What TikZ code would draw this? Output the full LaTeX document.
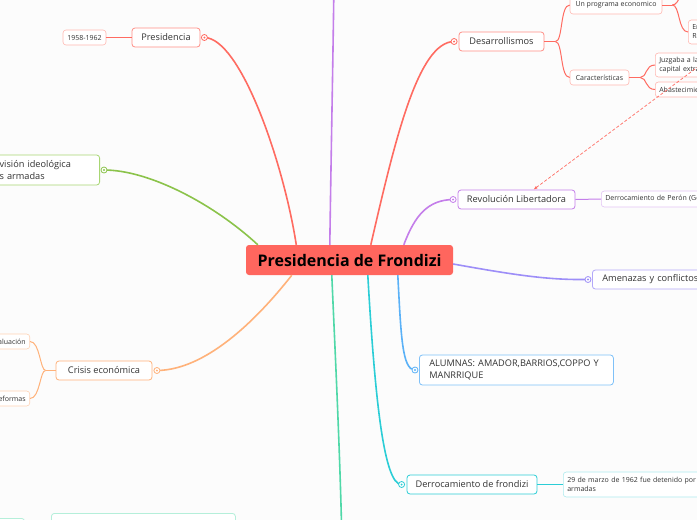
\documentclass[tikz,border=0pt]{standalone}
\usepackage{fontspec}
\setmainfont{Open Sans}
\usetikzlibrary{arrows.meta,calc}
\definecolor{paper}{HTML}{FCFCFC}
\definecolor{textcolor}{HTML}{333333}
\definecolor{rootfill}{HTML}{FF665E}
\definecolor{redline}{HTML}{FF6B61}
\definecolor{redsoft}{HTML}{FF8F86}
\definecolor{redpale}{HTML}{FFB8B2}
\definecolor{purpleline}{HTML}{C47EEA}
\definecolor{purplepale}{HTML}{E3C4F5}
\definecolor{greenline}{HTML}{8BC34A}
\definecolor{greensoft}{HTML}{A8D673}
\definecolor{orangeline}{HTML}{FFB27A}
\definecolor{orangepale}{HTML}{FFD3B5}
\definecolor{mintline}{HTML}{4FD8A8}
\definecolor{mintpale}{HTML}{B5EFDA}
\definecolor{tealline}{HTML}{2BCDD6}
\definecolor{tealpale}{HTML}{AEEBEE}
\definecolor{blueline}{HTML}{5AB1F7}
\definecolor{bluesoft}{HTML}{7FC1F8}
\definecolor{lavline}{HTML}{9D8EF8}
\definecolor{lavsoft}{HTML}{B3A8F9}

\begin{document}
\begin{tikzpicture}[
  x=1pt, y=-1pt, >=Latex,
  every node/.style={font=\fontsize{9.2}{12}\selectfont, text=textcolor},
  topic/.style={draw, fill=white, rounded corners=3pt, line width=0.8pt, inner sep=0pt, align=center},
  subtopic/.style={topic, line width=0.6pt, font=\fontsize{7}{9}\selectfont},
  branch/.style={line width=1.6pt},
  twig/.style={line width=1pt}
]
  \useasboundingbox (0,0) rectangle (697,520);
  \fill[paper] (0,0) rectangle (697,520);
  \clip (0,0) rectangle (697,520);

  % central topic
  \node[fill=rootfill, rounded corners=3pt, minimum width=207, minimum height=30,
        font=\fontsize{16}{18}\selectfont\bfseries, text=black] (root) at (349.5,260)
    {Presidencia de Frondizi};

  % left side
  \node[topic, draw=redsoft, minimum width=68, minimum height=19] (pres) at (166,37.5) {Presidencia};
  \node[subtopic, draw=redpale, minimum width=43, minimum height=15] (years) at (84.5,37.5) {1958-1962};

  \node[topic, draw=greensoft, anchor=east, text width=92, align=left, inner xsep=8,
        minimum height=30] (split) at (100,170) {visión ideológica\\s armadas};

  \node[topic, draw=orangeline, minimum width=96, minimum height=19] (crisis) at (104,370.5) {Crisis económica};
  \node[subtopic, draw=orangepale, anchor=east, text width=30, align=right, inner xsep=4,
        minimum height=15] (deval) at (30,341.5) {aluación};
  \node[subtopic, draw=orangepale, anchor=east, text width=30, align=right, inner xsep=4,
        minimum height=15] (reform) at (30,398.5) {eformas};

  \node[topic, draw=mintpale, anchor=north west, minimum width=184, minimum height=28] (plan) at (51,513) {};
  \node[topic, draw=mintpale, anchor=north east, minimum width=40, minimum height=28] (plan2) at (25,518) {};

  % right side
  \node[topic, draw=redsoft, minimum width=85, minimum height=19] (desa) at (501.5,41.5) {Desarrollismos};
  \node[subtopic, draw=redpale, minimum width=92, minimum height=18] (progr) at (616,5) {Un programa economico};
  \node[subtopic, draw=redpale, minimum width=59, minimum height=15] (carac) at (599.5,77.5) {Características};
  \node[subtopic, draw=redpale, anchor=west, text width=60, align=left, inner xsep=4,
        minimum height=24] (empr) at (688,32) {En\\Re};
  \node[subtopic, draw=redpale, anchor=west, text width=90, align=left, inner xsep=4,
        minimum height=24] (juzg) at (655,65) {Juzgaba a la\\capital extranjero};
  \node[subtopic, draw=redpale, anchor=west, text width=90, align=left, inner xsep=4,
        minimum height=15] (abast) at (655,89.5) {Abastecimiento};

  \node[topic, draw=purpleline, minimum width=117, minimum height=19] (revol) at (516.5,199.5) {Revolución Libertadora};
  \node[subtopic, draw=purplepale, anchor=west, text width=160, align=left, inner xsep=4,
        minimum height=16] (peron) at (601,199) {Derrocamiento de Perón (Golpe de Estado)};

  \node[topic, draw=lavsoft, anchor=west, text width=140, align=left, inner xsep=10,
        minimum height=19] (amen) at (592,279.5) {Amenazas y conflictos};

  \node[topic, draw=bluesoft, anchor=west, text width=174, align=left, inner xsep=10,
        minimum height=30] (alum) at (419,370) {ALUMNAS: AMADOR,BARRIOS,COPPO Y\\MANRRIQUE};

  \node[topic, draw=tealline, minimum width=130, minimum height=19] (derro) at (472,484.5) {Derrocamiento de frondizi};
  \node[subtopic, draw=tealpale, anchor=west, text width=170, align=left, inner xsep=4,
        minimum height=25] (marzo) at (563,484.5) {29 de marzo de 1962 fue detenido por las fuerzas\\armadas};

  % knob points
  \coordinate (presK) at ($(pres.east)+(4,0)$);
  \coordinate (splitK) at ($(split.east)+(4,0)$);
  \coordinate (crisisK) at ($(crisis.east)+(4.5,0)$);
  \coordinate (desaK) at ($(desa.west)+(-4.5,0)$);
  \coordinate (revolK) at ($(revol.west)+(-4.5,0)$);
  \coordinate (amenK) at ($(amen.west)+(-4,0)$);
  \coordinate (alumK) at ($(alum.west)+(-4,0)$);
  \coordinate (derroK) at ($(derro.west)+(-5,0)$);
  \coordinate (upK) at (334,-20);
  \coordinate (downK) at (342,545);

  % main branches
  \draw[branch, redline] ($(root.north west)+(50.5,0)$) .. controls (283,160) and (240,38) .. (presK);
  \draw[branch, greenline] ($(root.north west)+(12,0)$) .. controls (215,205) and (150,170) .. (splitK);
  \draw[branch, orangeline] ($(root.south west)+(46,0)$) .. controls (255,322) and (205,370) .. (crisisK);
  \draw[branch, mintline] ($(root.south west)+(86,0)$) .. controls (335,350) and (340,450) .. (downK);
  \draw[branch, purpleline] ($(root.north west)+(84,0)$) .. controls (331,160) and (333,60) .. (upK);
  \draw[branch, redline] ($(root.north west)+(125,0)$) .. controls (395,140) and (418,42) .. (desaK);
  \draw[branch, purpleline] ($(root.north west)+(158,0)$) .. controls (415,215) and (428,200) .. (revolK);
  \draw[branch, lavline] ($(root.east)+(0,4)$) .. controls (520,276) and (550,280) .. (amenK);
  \draw[branch, blueline] ($(root.south west)+(152,0)$) .. controls (401,335) and (402,370) .. (alumK);
  \draw[branch, tealline] ($(root.south west)+(122,0)$) .. controls (375,400) and (384,485) .. (derroK);

  % sub branches
  \draw[twig, redline] (pres.west) -- (years.east);
  \draw[twig, orangeline] (crisis.west) -- ++(-10,0) coordinate (crisisJ);
  \draw[twig, orangeline] (crisisJ) .. controls (40,370) and (40,341.5) .. (deval.east);
  \draw[twig, orangeline] (crisisJ) .. controls (40,370) and (40,398.5) .. (reform.east);
  \draw[twig, redline] (desa.east) -- ++(11,0) coordinate (desaJ);
  \draw[twig, redline] (desaJ) .. controls (563,42) and (560,5) .. (progr.west);
  \draw[twig, redline] (desaJ) .. controls (563,42) and (560,77.5) .. (carac.west);
  \draw[twig, redline] (progr.east) -- ++(10,0) coordinate (progrJ);
  \draw[twig, redline] (progrJ) .. controls (680,5) and (678,32) .. (empr.west);
  \draw[twig, redline] (progrJ) .. controls (680,5) and (680,-12) .. (690,-14);
  \draw[twig, redline] (carac.east) -- ++(11,0) coordinate (caracJ);
  \draw[twig, redline] (caracJ) .. controls (647,77.5) and (645,65) .. (juzg.west);
  \draw[twig, redline] (caracJ) .. controls (647,77.5) and (645,89.5) .. (abast.west);
  \draw[twig, purpleline] (revol.east) -- (peron.west);
  \draw[twig, tealline] (derro.east) -- (marzo.west);

  % knobs
  \foreach \k/\c in {presK/redline, splitK/greenline, crisisK/orangeline, desaK/redline,
                     revolK/purpleline, amenK/lavline, alumK/blueline, derroK/tealline} {
    \draw[\c, fill=white, line width=0.8pt] (\k) circle (3);
    \fill[\c] (\k) circle (1.1);
  }

  % relation
  \coordinate (relS) at (699,66);
  \draw[redline, line width=0.7pt, dash pattern=on 3pt off 2pt, -{Latex[length=4pt,width=3pt]}]
    (relS) -- ($(revol.north)+(17,0)$);
\end{tikzpicture}
\end{document}
